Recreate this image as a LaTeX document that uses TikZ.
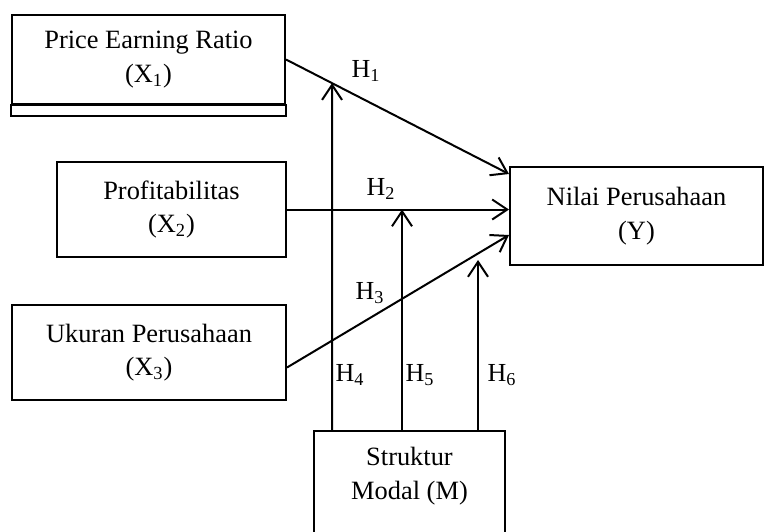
\documentclass[tikz,border=0pt]{standalone}
\usepackage{fontspec}
\setmainfont{Liberation Serif}
\usetikzlibrary{arrows.meta,calc}
\tikzset{
  >={Straight Barb[length=7.5pt,width=10pt]}
}

\begin{document}
\begin{tikzpicture}[x=0.5pt, y=-0.5pt, line width=1pt,
    var/.style={draw, align=center, inner sep=0pt, font=\fontsize{13.2}{16.8}\selectfont},
    hyp/.style={inner sep=0pt, font=\fontsize{13}{15}\selectfont}]
        \clip (0, 0) rectangle (765, 531);
        \node (X1) at (148.5, 59.5) [var, minimum width=136.5pt, minimum height=44.5pt] { Price Earning Ratio\\(X\textsubscript{1}) };
        \draw (X1.south west) rectangle ($(X1.south east)+(0, 11)$);
        \node (X2) at (171.5, 209.5) [var, minimum width=114.5pt, minimum height=47.5pt] { Profitabilitas\\(X\textsubscript{2}) };
        \node (X3) at (149, 352.5) [var, minimum width=137pt, minimum height=47.5pt] { Ukuran Perusahaan\\(X\textsubscript{3}) };
        \node (Y) at (636.5, 216) [var, minimum width=126.5pt, minimum height=49pt] { Nilai Perusahaan\\(Y) };
        \node (M) at (409.5, 430) [var, anchor=north, minimum width=95.5pt, minimum height=60pt] {};
        \node (Mlbl) at (409.5, 476) [var, draw=none] { Struktur\\Modal (M) };

        \coordinate (Y1) at ([yshift=-4pt]Y.north west);
        \coordinate (s4) at (332, 430);
        \coordinate (s5) at (402, 430);
        \coordinate (s6) at (478, 430);
        \coordinate (t4) at (intersection of X1.east--Y1 and s4--332,0);
        \coordinate (t5) at (s5 |- X2.east);
        \coordinate (t6) at (478, 260);

        \draw[->] (X1.east) -- (Y1);
        \draw[->] (X2.east) -- (X2.east -| Y.west);
        \draw[->] ([yshift=-7.5pt]X3.east) -- ([yshift=-9.5pt]Y.west);
        \draw[->] (s4) -- (t4);
        \draw[->] (s5) -- (t5);
        \draw[->] (s6) -- (t6);

        \node (h1) at (366, 71) [hyp] { H\textsubscript{1} };
        \node (h2) at (381, 189) [hyp] { H\textsubscript{2} };
        \node (h3) at (370, 293) [hyp] { H\textsubscript{3} };
        \node (h4) at (350, 375) [hyp] { H\textsubscript{4} };
        \node (h5) at (420, 375) [hyp] { H\textsubscript{5} };
        \node (h6) at (502, 375) [hyp] { H\textsubscript{6} };
    \end{tikzpicture}
\end{document}
